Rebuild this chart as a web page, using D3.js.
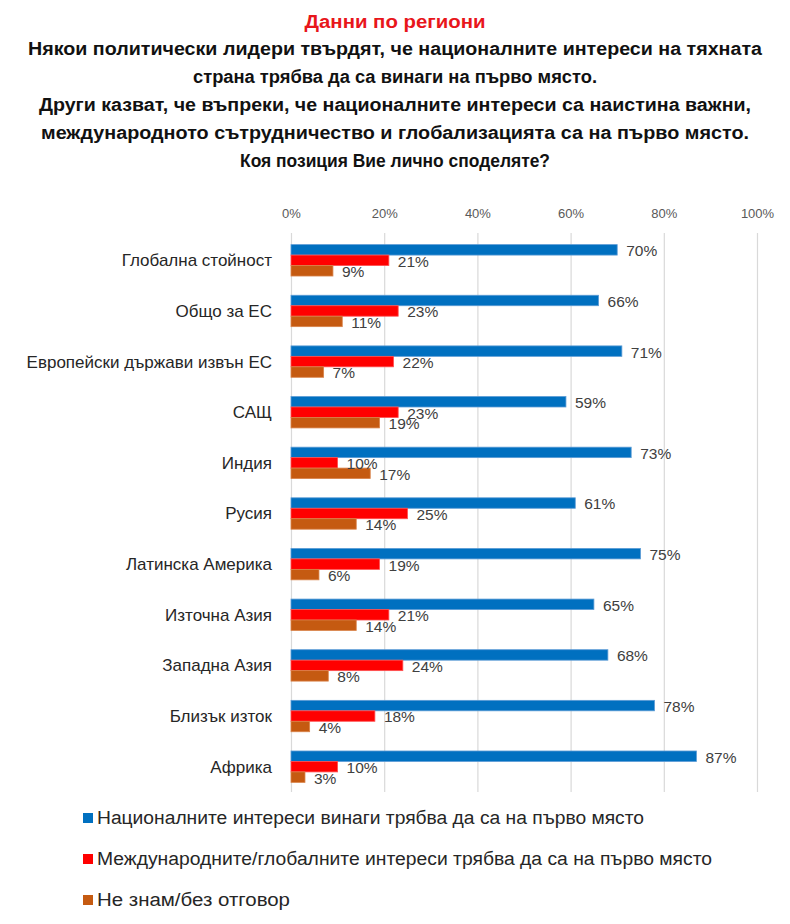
<!DOCTYPE html>
<html>
<head>
<meta charset="utf-8">
<script src="https://cdnjs.cloudflare.com/ajax/libs/d3/7.8.5/d3.min.js"></script>
<style>
  body { margin: 0; background: #fff; }
  #wrapper { width: 790px; height: 924px; }
</style>
</head>
<body>
<div id="wrapper"></div>
<script>
// данни
const regions = [
    "Глобална стойност", "Общо за ЕС", "Европейски държави извън ЕС", "САЩ",
    "Индия", "Русия", "Латинска Америка", "Източна Азия",
    "Западна Азия", "Близък изток", "Африка"
];
const nationalFirst = [70, 66, 71, 59, 73, 61, 75, 65, 68, 78, 87];
const globalFirst   = [21, 23, 22, 23, 10, 25, 19, 21, 24, 18, 10];
const dontKnow      = [9, 11, 7, 19, 17, 14, 6, 14, 8, 4, 3];
const seriesNames = [
    "Националните интереси винаги трябва да са на първо място",
    "Международните/глобалните интереси трябва да са на първо място",
    "Не знам/без отговор"
];
const tickValues = [0, 20, 40, 60, 80, 100];
const titleTop = "Данни по региони";
const titleLines = [
    "Някои политически лидери твърдят, че националните интереси на тяхната",
    "страна трябва да са винаги на първо място.",
    "Други казват, че въпреки, че националните интереси са наистина важни,",
    "международното сътрудничество и глобализацията са на първо място.",
    "Коя позиция Вие лично споделяте?"
];

function buildPlot() {
    const colors = ["#0070C0", "#FF0000", "#C55A11"];
    const strokes = ["#5B9BD5", "#FF5050", "#D9834A"];
    const series = [nationalFirst, globalFirst, dontKnow];

    const dimension = {
        width: 790,
        height: 924,
        plotLeft: 291,
        plotRight: 757,
        plotTop: 235,
        plotBottom: 792
    };

    const svg = d3.select("#wrapper").append("svg")
        .attr("width", dimension.width)
        .attr("height", dimension.height)
        .style("font-family", "'Liberation Sans', Arial, sans-serif");

    // заглавие
    svg.append("text")
        .attr("x", 395).attr("y", 28)
        .attr("text-anchor", "middle")
        .attr("font-weight", "bold")
        .attr("font-size", 18)
        .attr("fill", "#E8161B")
        .attr("textLength", 181)
        .attr("lengthAdjust", "spacingAndGlyphs")
        .text(titleTop);

    const titleWidths = [734, 404, 712, 708, 310];
    svg.selectAll(".title")
        .data(titleLines)
        .join("text")
        .attr("class", "title")
        .attr("x", 395)
        .attr("y", (d, i) => 55 + i * 28)
        .attr("text-anchor", "middle")
        .attr("font-weight", "bold")
        .attr("font-size", 18)
        .attr("fill", "#111")
        .attr("textLength", (d, i) => titleWidths[i])
        .attr("lengthAdjust", "spacingAndGlyphs")
        .text(d => d);

    const xScaler = d3.scaleLinear()
        .domain([0, 100])
        .range([dimension.plotLeft, dimension.plotRight]);

    const yScaler = d3.scaleBand()
        .domain(regions)
        .range([dimension.plotTop, dimension.plotBottom])
        .paddingInner(0.38)
        .paddingOuter(0.19);

    const ySub = d3.scaleBand()
        .domain([0, 1, 2])
        .range([0, yScaler.bandwidth()]);

    // ос и линии на мрежата
    const xAxisGenerator = d3.axisTop(xScaler)
        .tickValues(tickValues)
        .tickFormat(d => d + "%")
        .tickSizeInner(-(dimension.plotBottom - 233))
        .tickSizeOuter(0)
        .tickPadding(15);

    const xAxis = svg.append("g")
        .attr("transform", "translate(0,233)")
        .call(xAxisGenerator);
    xAxis.select(".domain").remove();
    xAxis.selectAll(".tick line").attr("stroke", "#D9D9D9").attr("stroke-width", 1.2);
    xAxis.selectAll(".tick text")
        .attr("fill", "#595959")
        .attr("font-size", 13)
        .style("font-family", "'Liberation Sans', Arial, sans-serif");

    // етикети на категориите
    svg.selectAll(".cat")
        .data(regions)
        .join("text")
        .attr("class", "cat")
        .attr("x", 272)
        .attr("y", d => yScaler(d) + yScaler.bandwidth() / 2)
        .attr("dy", "0.35em")
        .attr("text-anchor", "end")
        .attr("font-size", 17)
        .attr("fill", "#262626")
        .text(d => d);

    // ленти
    series.forEach((values, s) => {
        const g = svg.append("g");
        g.selectAll("rect")
            .data(values)
            .join("rect")
            .attr("x", xScaler(0))
            .attr("y", (d, i) => yScaler(regions[i]) + ySub(s))
            .attr("width", d => xScaler(d) - xScaler(0))
            .attr("height", ySub.bandwidth())
            .attr("fill", colors[s])
            .attr("stroke", strokes[s])
            .attr("stroke-width", 0.8);
    });

    // етикети на стойностите
    series.forEach((values, s) => {
        svg.append("g").selectAll("text")
            .data(values)
            .join("text")
            .attr("x", d => xScaler(d) + 9)
            .attr("y", (d, i) => yScaler(regions[i]) + ySub(s) + ySub.bandwidth() / 2 + 1)
            .attr("dy", "0.35em")
            .attr("font-size", 15.5)
            .attr("fill", "#404040")
            .text(d => d + "%");
    });

    // легенда
    const legendWidths = [547, 615, 193];
    const legend = svg.selectAll(".legend")
        .data(seriesNames)
        .join("g")
        .attr("class", "legend")
        .attr("transform", (d, i) => `translate(83,${818 + i * 41})`);
    legend.append("rect")
        .attr("x", 0).attr("y", -5)
        .attr("width", 10).attr("height", 10)
        .attr("fill", (d, i) => colors[i]);
    legend.append("text")
        .attr("x", 14)
        .attr("dy", "0.35em")
        .attr("font-size", 18)
        .attr("fill", "#262626")
        .attr("textLength", (d, i) => legendWidths[i])
        .attr("lengthAdjust", "spacingAndGlyphs")
        .text(d => d);
}

buildPlot();
</script>
</body>
</html>
